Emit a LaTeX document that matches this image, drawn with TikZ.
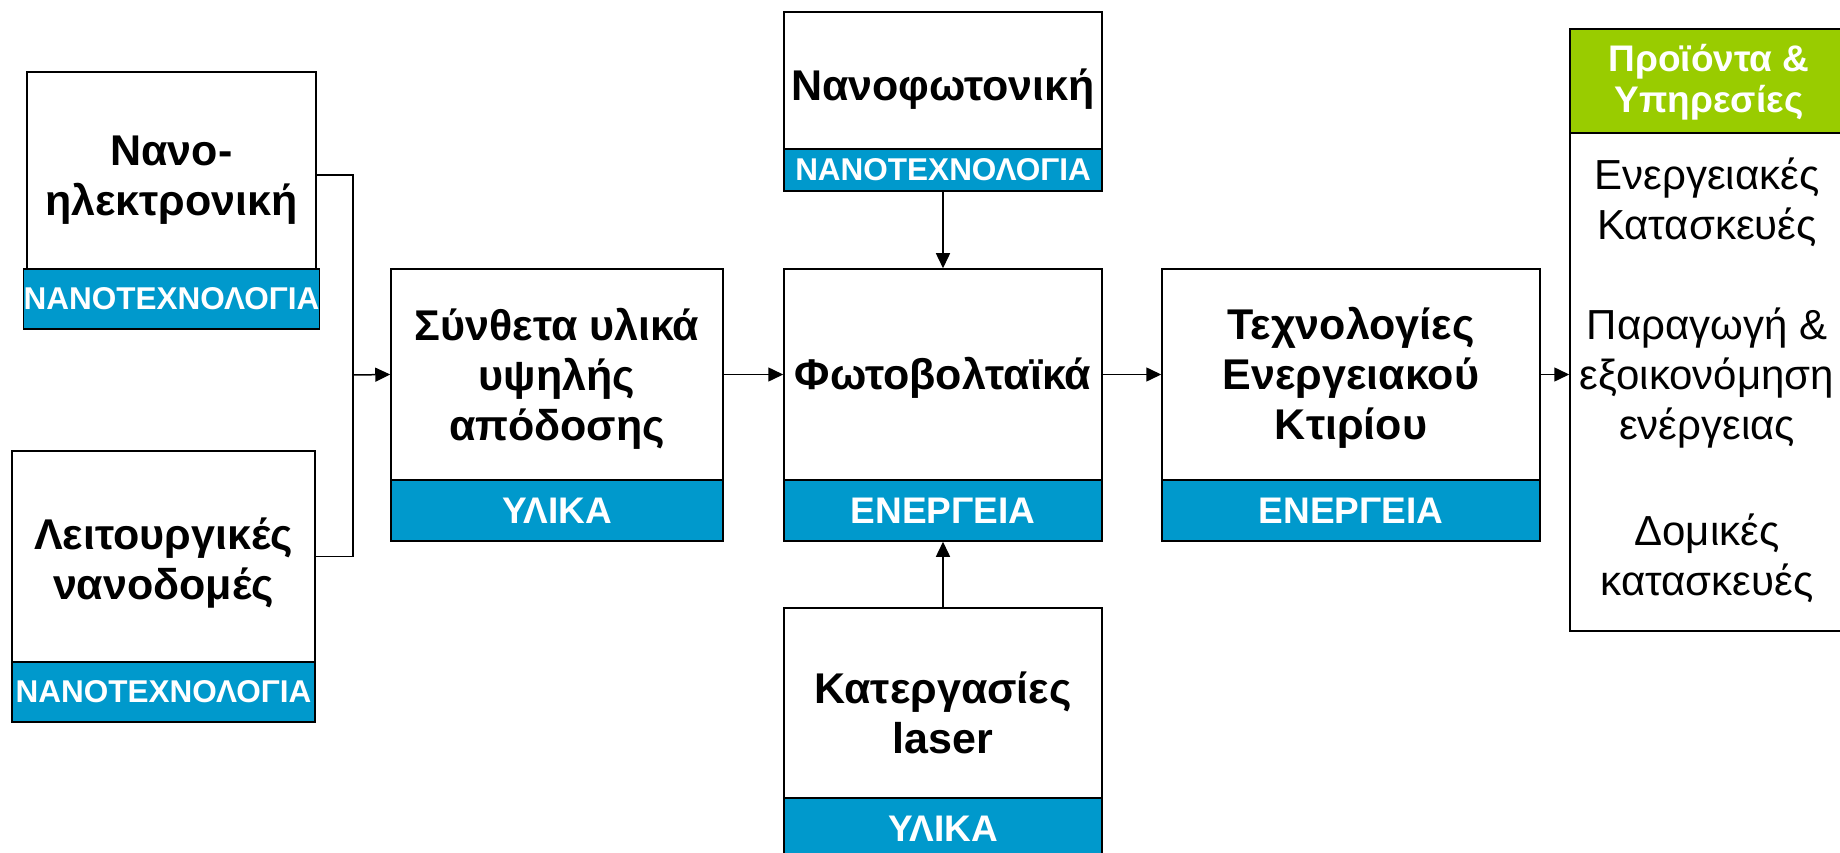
\documentclass[tikz,border=0pt]{standalone}
\usepackage{fontspec}
\setmainfont{Liberation Sans}
\usetikzlibrary{arrows.meta}
\definecolor{bandblue}{HTML}{0099CC}
\definecolor{hdrgreen}{HTML}{99CC00}
\newcommand\lowtxt[2]{\raisebox{-#1}[\height][\depth]{\begin{tabular}{@{}c@{}}#2\end{tabular}}}
\begin{document}
\begin{tikzpicture}[x=1pt,y=-1pt,
  box/.style={draw=black, line width=1.5pt, fill=white, inner sep=0pt, align=center,
    font=\bfseries\fontsize{43}{50}\selectfont},
  band/.style={draw=black, line width=1.5pt, fill=bandblue, text=white, inner sep=0pt, align=center,
    font=\bfseries\fontsize{37}{44}\selectfont},
  nanoband/.style={band, font=\bfseries\fontsize{31.5}{36}\selectfont},
  hdr/.style={draw=black, line width=1.5pt, fill=hdrgreen, text=white, inner sep=0pt, align=center,
    font=\bfseries\fontsize{37}{41}\selectfont},
  plain/.style={draw=black, line width=1.5pt, fill=white, inner sep=0pt},
  prodtext/.style={inner sep=0pt, align=center, font=\fontsize{42}{50}\selectfont},
  conn/.style={line width=1.5pt},
  arr/.style={conn, -{Triangle[length=15pt,width=14pt]}}
]
\fill[white] (0,0) rectangle (1840,853);
\clip (0,0) rectangle (1840,853);

% Nano-electronics
\node[box, minimum width=289pt, minimum height=197pt] (nano) at (171.5,170.5) {\lowtxt{10pt}{Νανο-\\ηλεκτρονική}};
\node[nanoband, minimum width=289pt, minimum height=60pt] (nanob) at (171.5,299) {ΝΑΝΟΤΕΧΝΟΛΟΓΙΑ};

% Functional nanostructures
\node[box, minimum width=303pt, minimum height=211pt] (func) at (163.5,556.5) {\lowtxt{8pt}{Λειτουργικές\\νανοδομές}};
\node[nanoband, minimum width=303pt, minimum height=60pt] (funcb) at (163.5,692) {ΝΑΝΟΤΕΧΝΟΛΟΓΙΑ};

% Composite materials
\node[box, minimum width=332pt, minimum height=211pt] (syn) at (557,374.5) {\lowtxt{6pt}{Σύνθετα υλικά\\υψηλής\\απόδοσης}};
\node[band, minimum width=332pt, minimum height=61pt] (synb) at (557,510.5) {ΥΛΙΚΑ};

% Photovoltaics
\node[box, minimum width=318pt, minimum height=211pt] (pv) at (943,374.5) {\lowtxt{5pt}{Φωτοβολταϊκά}};
\node[band, minimum width=318pt, minimum height=61pt] (pvb) at (943,510.5) {ΕΝΕΡΓΕΙΑ};

% Nanophotonics
\node[box, minimum width=318pt, minimum height=137pt] (nph) at (943,80.5) {\lowtxt{10pt}{Νανοφωτονική}};
\node[nanoband, minimum width=318pt, minimum height=42pt] (nphb) at (943,170) {ΝΑΝΟΤΕΧΝΟΛΟΓΙΑ};

% Laser processing
\node[box, minimum width=318pt, minimum height=190pt] (laser) at (943,703) {\lowtxt{15pt}{Κατεργασίες\\laser}};
\node[band, minimum width=318pt, minimum height=62pt] (laserb) at (943,829) {ΥΛΙΚΑ};

% Building energy technologies
\node[box, minimum width=378pt, minimum height=211pt] (tech) at (1351,374.5) {\lowtxt{5pt}{Τεχνολογίες\\Ενεργειακού\\Κτιρίου}};
\node[band, minimum width=378pt, minimum height=61pt] (techb) at (1351,510.5) {ΕΝΕΡΓΕΙΑ};

% Products & services
\node[hdr, minimum width=278pt, minimum height=104pt] (prodh) at (1709,81) {\lowtxt{3pt}{Προϊόντα \&\\Υπηρεσίες}};
\node[plain, minimum width=278pt, minimum height=498pt] (prod) at (1709,382) {};
\node[prodtext] (prodtxt) at (1707,380) {Ενεργειακές\\Κατασκευές\\[50pt]Παραγωγή \&\\εξοικονόμηση\\ενέργειας\\[56pt]Δομικές\\κατασκευές};

% Connectors
\coordinate (j) at (353,375);
\draw[conn] ([yshift=-4.5pt]nano.east) -| (j) |- (func.east);
\draw[arr] (j) -- (syn.west);
\draw[arr] (syn.east) -- (pv.west);
\draw[arr] (nphb.south) -- (pv.north);
\draw[arr] (laser.north) -- (pvb.south);
\draw[arr] (pv.east) -- (tech.west);
\draw[arr] (tech.east) -- (tech.east -| prod.west);
\end{tikzpicture}
\end{document}
